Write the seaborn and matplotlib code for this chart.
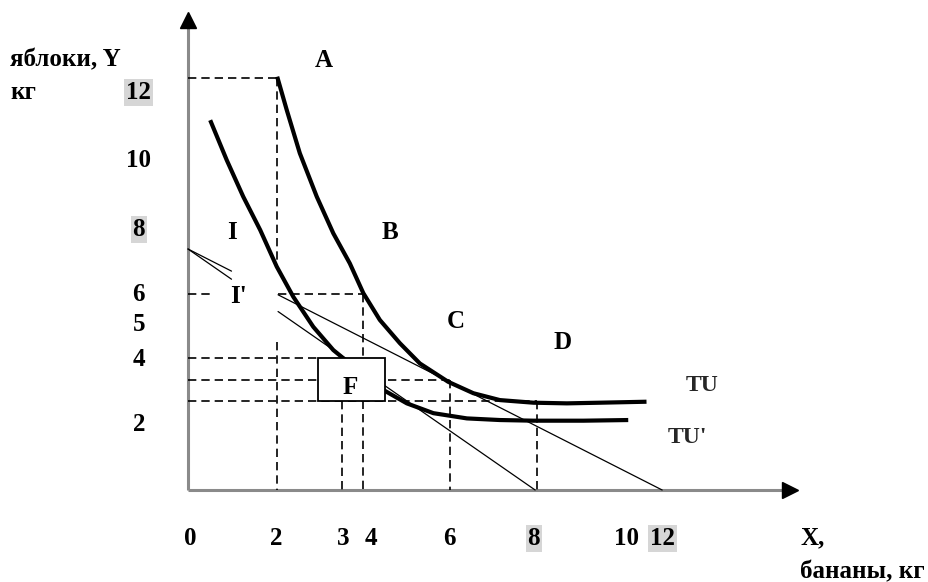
import matplotlib
matplotlib.use("Agg")
import matplotlib.pyplot as plt
import seaborn as sns
import pandas as pd
import numpy as np
from matplotlib.patches import Rectangle

# ---- data (economic units) ----
tu_x = [2.05, 2.27, 2.57, 2.96, 3.34, 3.72, 4.03, 4.41, 4.87, 5.33, 5.98,
        6.56, 7.17, 7.94, 8.71, 9.47, 10.54]
tu_y = [12.64, 11.62, 10.30, 8.97, 7.85, 6.93, 6.02, 5.20, 4.49, 3.87, 3.31,
        2.96, 2.75, 2.67, 2.65, 2.67, 2.70]
tu2_x = [0.51, 0.89, 1.27, 1.66, 2.04, 2.42, 2.88, 3.34, 3.57, 4.02, 4.49,
         5.03, 5.64, 6.41, 7.17, 7.94, 9.09, 10.12]
tu2_y = [11.31, 10.09, 8.97, 7.95, 6.83, 5.91, 4.99, 4.28, 4.03, 3.58, 3.06,
         2.65, 2.35, 2.19, 2.14, 2.12, 2.12, 2.14]

budget_y0 = 7.37          # common intercept on Y axis
budget1_x0 = 7.98         # steeper budget line intercept on X
budget2_x0 = 10.9         # flatter budget line intercept on X

y_tick_labels = ["12", "10", "8", "6", "5", "4", "2"]
y_tick_pos = [12.17, 10.09, 7.98, 5.99, 5.05, 4.0, 1.99]
x_tick_labels = ["0", "2", "3", "4", "6", "8", "10", "12"]
x_tick_pos = [0.05, 2.02, 3.56, 4.21, 6.0, 7.95, 10.07, 10.9]
highlight = {"8", "12"}

# ---- figure ----
sns.set_theme(style="white")
plt.rcParams['font.family'] = ['Liberation Serif', 'DejaVu Serif']
fig = plt.figure(figsize=(9.29, 5.82), dpi=100)
ax = fig.add_axes([0, 0, 1, 1])

# axes with arrows
ax.plot([0, 0], [0, 14.3], color="#8a8a8a", lw=2.2, solid_capstyle="butt", zorder=2)
ax.plot([0, 13.72], [0, 0], color="#8a8a8a", lw=2.2, solid_capstyle="butt", zorder=2)
ax.plot([0], [14.37], marker="^", color="black", markersize=11, zorder=3)
ax.plot([13.84], [0], marker=">", color="black", markersize=11, zorder=3)

# dashed guides
dash_kw = dict(color="black", lw=1.2, ls=(0, (5, 3)), zorder=2)
guides = [
    ([0, 2.05], [12.6, 12.6]),
    ([2.05, 2.05], [12.6, 6.97]),
    ([2.05, 2.05], [4.53, 0]),
    ([0, 0.51], [6.0, 6.0]),
    ([2.07, 4.02], [6.0, 6.0]),
    ([4.02, 4.02], [6.0, 0]),
    ([0, 2.99], [4.04, 4.04]),
    ([0, 6.02], [3.36, 3.36]),
    ([6.02, 6.02], [3.36, 0]),
    ([0, 8.02], [2.72, 2.72]),
    ([8.02, 8.02], [2.72, 0]),
    ([3.54, 3.54], [2.72, 0]),
]
for gx, gy in guides:
    ax.plot(gx, gy, **dash_kw)

# budget lines (thin)
for x0 in (budget1_x0, budget2_x0):
    for xs in (np.array([0, 1.0]), np.array([2.07, x0])):
        ax.plot(xs, budget_y0 * (1 - xs / x0), color="black", lw=0.9, zorder=3)

# indifference curves
df1 = pd.DataFrame({"x": tu_x, "y": tu_y})
df2 = pd.DataFrame({"x": tu2_x, "y": tu2_y})
sns.lineplot(data=df1, x="x", y="y", sort=False, color="black", lw=3.0, ax=ax,
             zorder=4, solid_joinstyle="round", solid_capstyle="butt")
sns.lineplot(data=df2, x="x", y="y", sort=False, color="black", lw=3.0, ax=ax,
             zorder=4, solid_joinstyle="round", solid_capstyle="butt")
ax.axis("off")
ax.set_xlim(-4.322, 17.034)
ax.set_ylim(-2.813, 14.985)

# box F
ax.add_patch(Rectangle((2.99, 2.72), 1.54, 1.32, facecolor="white",
                       edgecolor="black", lw=1.3, zorder=6))

tk = dict(fontsize=18, fontweight="bold", color="black", zorder=7)
for lab, yp in zip(y_tick_labels, y_tick_pos):
    bb = dict(facecolor="#d6d6d6", edgecolor="none", pad=1.5) if lab in highlight else None
    ax.text(-1.13, yp, lab, ha="center", va="center", bbox=bb, **tk)
for lab, xp in zip(x_tick_labels, x_tick_pos):
    bb = dict(facecolor="#d6d6d6", edgecolor="none", pad=1.5) if lab in highlight else None
    ax.text(xp, -1.47, lab, ha="center", va="center", bbox=bb, **tk)

ax.text(-4.09, 13.15, "яблоки, Y", ha="left", va="center", **tk)
ax.text(-4.09, 12.17, "кг", ha="left", va="center", **tk)
ax.text(14.07, -1.47, "X,", ha="left", va="center", **tk)
ax.text(14.07, -2.51, "бананы, кг", ha="left", va="center", **tk)

for lab, (px, py) in {"A": (3.13, 13.15), "B": (4.64, 7.89), "C": (6.16, 5.14),
                      "D": (8.62, 4.50), "I": (1.01, 7.89), "I'": (1.15, 5.93),
                      "F": (3.72, 3.15)}.items():
    ax.text(px, py, lab, ha="center", va="center", **tk)
ax.text(11.82, 3.21, "TU", ha="center", va="center", fontsize=17, fontweight="bold", zorder=7)
ax.text(11.49, 1.62, "TU'", ha="center", va="center", fontsize=17, fontweight="bold", zorder=7)

fig.savefig("out.png", dpi=100, facecolor="white")
